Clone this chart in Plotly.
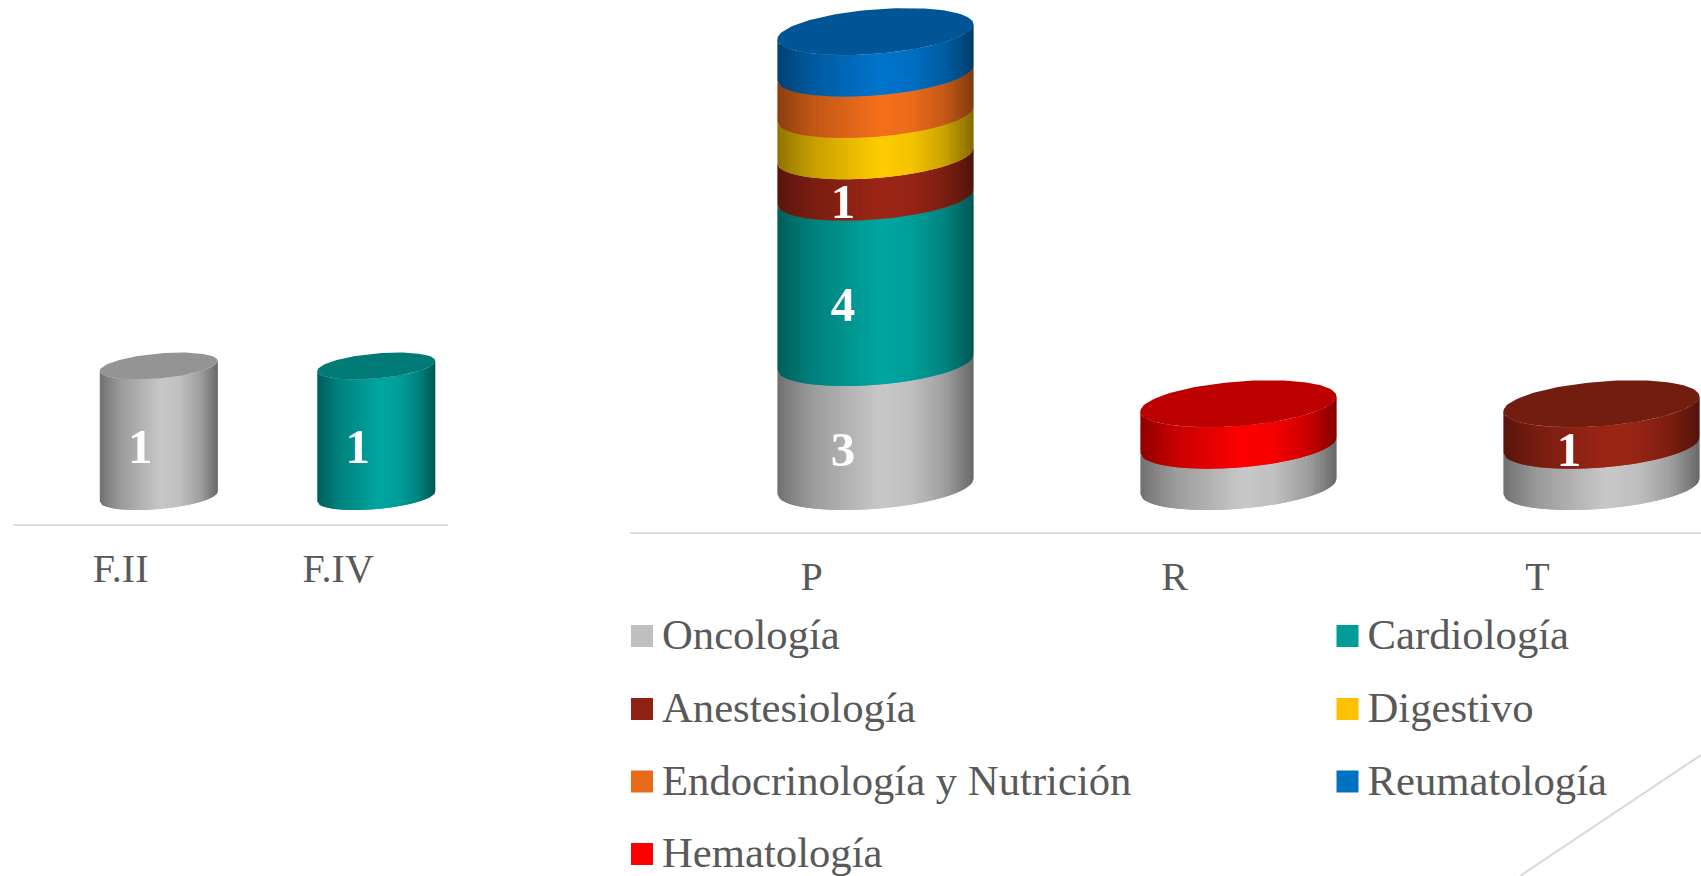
import numpy as np
import plotly.graph_objects as go

# ---- data -------------------------------------------------------------
categories_left = ["F.II", "F.IV"]
categories_right = ["P", "R", "T"]

series_names = ["Oncología", "Cardiología", "Anestesiología", "Digestivo",
                "Endocrinología y Nutrición", "Reumatología", "Hematología"]
series_colors = ["#C8C8C8", "#00A6A0", "#9C2616", "#FFCC00", "#F6701C", "#0074CC", "#FF0000"]
legend_colors = ["#BFBFBF", "#009C98", "#8E2314", "#FFC000", "#E96A18", "#0070C0", "#FF0000"]

left_oncologia = [1, 0]
left_cardiologia = [0, 1]

right_oncologia = [3, 1, 1]
right_cardiologia = [4, 0, 0]
right_anestesiologia = [1, 0, 1]
right_digestivo = [1, 0, 0]
right_endocrinologia = [1, 0, 0]
right_reumatologia = [1, 0, 0]
right_hematologia = [0, 1, 0]

# which values carry a printed label: (category index, series index)
left_labelled = [(0, 0), (1, 1)]
right_labelled = [(0, 0), (0, 1), (0, 2), (2, 2)]

left_values = [left_oncologia, left_cardiologia, [0, 0], [0, 0], [0, 0], [0, 0], [0, 0]]
right_values = [right_oncologia, right_cardiologia, right_anestesiologia, right_digestivo,
                right_endocrinologia, right_reumatologia, right_hematologia]

# ---- page geometry (pixels) --------------------------------------------
W, H = 1701, 876
TEXT = "#595959"
SERIF = "Liberation Serif"
SHADE_POS = [0.0, 0.06, 0.18, 0.52, 0.68, 0.85, 0.95, 1.0]
SHADE_VAL = [0.56, 0.64, 0.78, 1.0, 0.96, 0.80, 0.62, 0.52]
CAP = 0.74
N_STRIPS = 60


def tint(hex_color, f):
    r, g, b = (int(hex_color[i:i + 2], 16) for i in (1, 3, 5))
    return "rgb(%d,%d,%d)" % (r * f, g * f, b * f)


def add_panel(fig, cats, values, labelled, xa, ya, unit_px,
              half_y_px, shear_px, drop_px, shift, half_w, label_dx):
    """Draw stacked cylinders; y in value units, x in category units."""
    half_y = half_y_px / unit_px
    shear = shear_px / unit_px
    edges = np.linspace(-1, 1, N_STRIPS + 1)
    bases = np.zeros(len(cats))
    caps = {}
    for s, vals in enumerate(values):
        if not any(vals):
            continue
        for k in range(N_STRIPS):
            a = edges[k]
            # each strip runs under the next one, painted left to right, so no seams show
            b = edges[min(k + 2, N_STRIPS)]
            xs, ys = [], []
            for c, v in enumerate(vals):
                if not v:
                    continue
                y0, y1 = bases[c], bases[c] + v
                cx = c + shift
                grid = np.linspace(a, b, 4)
                front = -half_y * np.sqrt(np.clip(1 - grid ** 2, 0, 1)) + shear * grid
                xs += list(cx + half_w * grid) + list(cx + half_w * grid[::-1]) + [None]
                ys += list(y0 + front) + list(y1 + front[::-1]) + [None]
            if xs:
                mid = (edges[k] + edges[k + 1]) / 2
                f = np.interp(mid / 2 + 0.5, SHADE_POS, SHADE_VAL)
                col = tint(series_colors[s], f)
                fig.add_trace(go.Scatter(x=xs, y=ys, mode="lines", fill="toself", fillcolor=col,
                                         line=dict(width=0), xaxis=xa, yaxis=ya,
                                         hoverinfo="skip", showlegend=False))
        for c, v in enumerate(vals):
            if v:
                caps[c] = s
        bases = bases + np.array(vals)
    t = np.linspace(0, 2 * np.pi, 121)
    for c, s in caps.items():
        col = tint(series_colors[s], CAP)
        fig.add_trace(go.Scatter(x=c + shift + half_w * np.cos(t),
                                 y=bases[c] + half_y * np.sin(t) + shear * np.cos(t),
                                 mode="lines", fill="toself", fillcolor=col,
                                 line=dict(width=0), xaxis=xa, yaxis=ya,
                                 hoverinfo="skip", showlegend=False))
    # data labels
    lx, ly, lt = [], [], []
    for c, s in labelled:
        below = sum(values[j][c] for j in range(s))
        lx.append(c + label_dx)
        ly.append(below + values[s][c] / 2 - drop_px / unit_px)
        lt.append(str(values[s][c]))
    fig.add_trace(go.Scatter(x=lx, y=ly, text=lt, mode="text", xaxis=xa, yaxis=ya,
                             textfont=dict(family=SERIF, size=49, color="#FFFFFF", weight="bold"),
                             textposition="middle center", hoverinfo="skip", showlegend=False))


fig = go.Figure()

# left panel: axis line at 524 px, base centre at 496.5 px
L_AXIS, L_BASE, L_UNIT = 523.5, 496.5, 130.5
add_panel(fig, categories_left, left_values, left_labelled, "x", "y", L_UNIT,
          12.5, 5, 19, 0.175, 0.271, 0.09)
# right panel: axis line at 531.5 px, base centre at 486.5 px
R_AXIS, R_BASE, R_UNIT = 531.5, 486.5, 41.35
add_panel(fig, categories_right, right_values, right_labelled, "x2", "y2", R_UNIT,
          22.3, 7.5, 29, 0.176, 0.27, 0.087)

# legend built as squares + text in a page-wide overlay
legend_order = [(0, 0), (1, 0), (0, 1), (1, 1), (0, 2), (1, 2), (0, 3)]
col_x = [642, 1347.5]
row_y = [636, 709, 781.5, 854]
for name, col, (cl, rw) in zip(series_names, legend_colors, legend_order):
    fig.add_trace(go.Scatter(x=[col_x[cl]], y=[row_y[rw]], mode="markers", name=name,
                             marker=dict(symbol="square", size=22, color=col, line=dict(width=0)),
                             xaxis="x3", yaxis="y3", hoverinfo="name", showlegend=False))
    fig.add_trace(go.Scatter(x=[col_x[cl] + 20], y=[row_y[rw] + 2.5], mode="text", text=[name],
                             textposition="middle right",
                             textfont=dict(family=SERIF, size=42.7, color=TEXT),
                             xaxis="x3", yaxis="y3", hoverinfo="skip", showlegend=False))

axis_common = dict(showgrid=False, zeroline=False, showline=True, linecolor="#DEDEDE", linewidth=2,
                   ticks="outside", tickcolor="rgba(0,0,0,0)", tickwidth=1, ticklen=8,
                   tickfont=dict(family=SERIF, size=40, color=TEXT))
hidden = dict(visible=False, fixedrange=True)

fig.update_layout(
    width=W, height=H, autosize=False,
    margin=dict(l=0, r=0, t=0, b=0),
    paper_bgcolor="#FFFFFF", plot_bgcolor="rgba(0,0,0,0)",
    showlegend=False,
    xaxis=dict(domain=[13 / W, 448 / W], range=[-0.495, 1.505], tickmode="array",
               tickvals=list(range(len(categories_left))), ticktext=categories_left,
               anchor="y", **axis_common),
    yaxis=dict(domain=[(H - L_AXIS) / H, 1], range=[-(L_AXIS - L_BASE) / L_UNIT, L_BASE / L_UNIT],
               anchor="x", **hidden),
    xaxis2=dict(domain=[630 / W, 1], range=[-0.5, -0.5 + 1071 / 363], tickmode="array",
                tickvals=list(range(len(categories_right))), ticktext=categories_right,
                anchor="y2", **axis_common),
    yaxis2=dict(domain=[(H - R_AXIS) / H, 1], range=[-(R_AXIS - R_BASE) / R_UNIT, R_BASE / R_UNIT],
                anchor="x2", **hidden),
    xaxis3=dict(domain=[0, 1], range=[0, W], anchor="y3", **hidden),
    yaxis3=dict(domain=[0, 1], range=[H, 0], anchor="x3", **hidden),
    shapes=[dict(type="line", xref="paper", yref="paper", x0=1520 / W, y0=0, x1=1, y1=(H - 755) / H,
                 line=dict(color="#D9D9D9", width=2))],
)

fig.write_html("out.html", config=dict(displayModeBar=False),
               post_script="document.body.style.margin='0';document.body.style.overflow='hidden';")
